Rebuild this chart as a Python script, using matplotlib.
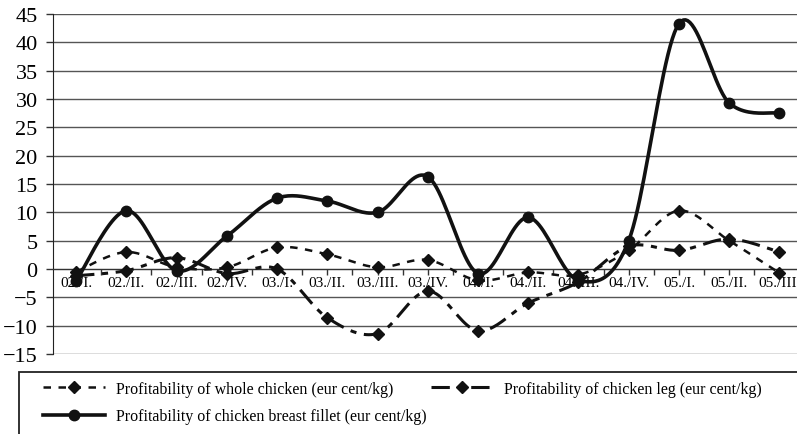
import numpy as np
import matplotlib
matplotlib.use('Agg')
import matplotlib.pyplot as plt
from matplotlib.lines import Line2D
from matplotlib.patches import Rectangle

plt.rcParams['font.family'] = ['Liberation Serif', 'DejaVu Serif']

quarters = ['02./I.', '02./II.', '02./III.', '02./IV.', '03./I.', '03./II.', '03./III.', '03./IV.',
            '04./I.', '04./II.', '04./III.', '04./IV.', '05./I.', '05./II.', '05./III.']
whole_chicken = [-0.5, 3.0, 0.3, 0.3, 3.8, 2.6, 0.3, 1.6, -2.0, -0.6, -1.0, 3.3, 10.3, 5.0, -0.7]
chicken_leg = [-1.2, -0.3, 2.0, -0.8, 0.0, -8.6, -11.4, -3.9, -10.9, -6.0, -2.3, 4.0, 3.3, 5.3, 3.0]
breast_fillet = [-2.1, 10.3, -0.3, 5.8, 12.5, 12.0, 10.0, 16.3, -0.8, 9.1, -2.0, 5.0, 43.3, 29.3, 27.5]


def smooth(x, y, n=24):
    """Bezier smoothing like a spreadsheet 'smoothed line'"""
    pts = np.column_stack([x, y]).astype(float)
    p = np.vstack([pts[0], pts, pts[-1]])
    out = []
    t = np.linspace(0, 1, n)[:, None]
    for i in range(1, len(p) - 2):
        p0, p1, p2, p3 = p[i - 1], p[i], p[i + 1], p[i + 2]
        c1 = p1 + (p2 - p0) / 6
        c2 = p2 - (p3 - p1) / 6
        seg = (1 - t) ** 3 * p1 + 3 * (1 - t) ** 2 * t * c1 + 3 * (1 - t) * t ** 2 * c2 + t ** 3 * p2
        out.append(seg if i == 1 else seg[1:])
    return np.vstack(out)


fig = plt.figure(figsize=(7.97, 4.35), dpi=100)
ax = fig.add_axes([53 / 797, 1 - 355 / 435, 1 - 53 / 797, 340 / 435])

x = np.arange(len(quarters))
ink = '#111111'

styles = {
    'whole': dict(ls=(0, (3, 3)), lw=1.8, marker='D', ms=6.5),
    'leg': dict(ls=(0, (6, 2.5, 2, 2.5)), lw=2.2, marker='D', ms=6.5),
    'breast': dict(ls='-', lw=2.6, marker='o', ms=7.5),
}

for vals, key in [(whole_chicken, 'whole'), (chicken_leg, 'leg'), (breast_fillet, 'breast')]:
    st = styles[key]
    curve = smooth(x, vals)
    ax.plot(curve[:, 0], curve[:, 1], color=ink, ls=st['ls'], lw=st['lw'], zorder=3)
    ax.plot(x, vals, ls='none', marker=st['marker'], ms=st['ms'], color=ink, zorder=4)

ax.set_xlim(-0.46, 14.35)
ax.set_ylim(-15, 45)
ax.set_yticks(range(-15, 50, 5))
ax.yaxis.grid(True, color='#555555', lw=1.0)
ax.set_axisbelow(True)

for s in ['top', 'right']:
    ax.spines[s].set_visible(False)
ax.spines['left'].set_color('#222222')
ax.spines['bottom'].set_position(('data', 0))
ax.spines['bottom'].set_color('#333333')

ax.set_xticks(x)
ax.set_xticklabels(quarters, fontsize=11)
ax.set_xticks(x[:-1] + 0.5, minor=True)
ax.tick_params(axis='x', which='both', direction='out', length=4, width=1, color='#333333', pad=1)
ax.tick_params(axis='y', direction='out', length=5, width=1, color='#333333', labelsize=16, pad=6)

# Legend
h_whole = Line2D([], [], color=ink, **styles['whole'])
h_leg = Line2D([], [], color=ink, **styles['leg'])
h_breast = Line2D([], [], color=ink, **styles['breast'])
fig.legend([h_whole, h_breast, h_leg],
           ['Profitability of whole chicken (eur cent/kg)',
            'Profitability of chicken breast fillet (eur cent/kg)',
            'Profitability of chicken leg (eur cent/kg)'],
           loc='upper left', bbox_to_anchor=(43 / 797, 1 - 382 / 435), ncol=2,
           frameon=False, fontsize=11.5, handlelength=3.9, handletextpad=0.65,
           columnspacing=0.3, labelspacing=0.7, borderpad=0, borderaxespad=0)
fig.patches.append(Rectangle((19 / 797, -0.05), 1.0, 0.05 + 1 - 373 / 435,
                             transform=fig.transFigure, fill=False,
                             edgecolor='#222222', lw=1.3))

fig.savefig('out.png', dpi=100)
plt.close(fig)
